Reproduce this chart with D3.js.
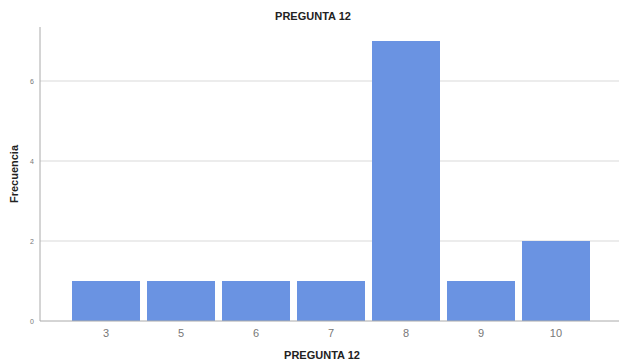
<!DOCTYPE html>
<html><head><meta charset="utf-8">
<script src="https://cdn.jsdelivr.net/npm/d3@7"></script>
<style>body{margin:0;background:#fff}svg{display:block}</style>
</head><body>
<script>
const categories = ["3","5","6","7","8","9","10"];
const values = [1,1,1,1,7,1,2];
const yTicks = [0,2,4,6];
const title = "PREGUNTA 12";
const xTitle = "PREGUNTA 12";
const yTitle = "Frecuencia";

const W = 619, H = 364;
const svg = d3.select("body").append("svg").attr("width", W).attr("height", H);
const x = d3.scaleBand().domain(categories).range([68.5, 593.5]).paddingInner(0.0933).paddingOuter(0.0467);
const y = d3.scaleLinear().domain([0, 7]).range([321, 41]);

// gridlines
svg.append("g").selectAll("line").data(yTicks.filter(d => d > 0)).join("line")
  .attr("x1", 40).attr("x2", W).attr("y1", d => y(d)).attr("y2", d => y(d))
  .attr("stroke", "#d9d9d9").attr("stroke-width", 1);

// bars
svg.append("g").selectAll("rect").data(values).join("rect")
  .attr("x", (d,i) => x(categories[i])).attr("width", x.bandwidth())
  .attr("y", d => y(d)).attr("height", d => y(0) - y(d))
  .attr("fill", "#6a93e2");

// y axis
const ya = svg.append("g").attr("transform", "translate(40,0)")
  .call(d3.axisLeft(y).tickValues(yTicks).tickSize(0).tickPadding(6).tickFormat(d3.format("d")));
ya.select(".domain").attr("d", `M0,27V${y(0)}`).attr("stroke", "#aaa");
ya.selectAll("text").attr("font-family", "Arial, Liberation Sans, sans-serif").attr("font-size", 7).attr("fill", "#777");

// x axis
const xa = svg.append("g").attr("transform", `translate(0,${y(0)})`)
  .call(d3.axisBottom(x).tickSize(0).tickPadding(8));
xa.select(".domain").attr("d", `M40,0H${W}`).attr("stroke", "#aaa");
xa.selectAll("text").attr("font-family", "Arial, Liberation Sans, sans-serif").attr("font-size", 11).attr("fill", "#777");

svg.append("text").attr("x", 313).attr("y", 20).attr("text-anchor", "middle")
  .attr("font-family", "Arial, Liberation Sans, sans-serif").attr("font-weight", "bold").attr("font-size", 11).attr("fill", "#222").text(title);
svg.append("text").attr("x", 322).attr("y", 359).attr("text-anchor", "middle")
  .attr("font-family", "Arial, Liberation Sans, sans-serif").attr("font-weight", "bold").attr("font-size", 11).attr("fill", "#222").text(xTitle);
svg.append("text").attr("transform", "translate(18,174) rotate(-90)").attr("text-anchor", "middle")
  .attr("font-family", "Arial, Liberation Sans, sans-serif").attr("font-weight", "bold").attr("font-size", 11).attr("fill", "#222").text(yTitle);
</script>
</body></html>
